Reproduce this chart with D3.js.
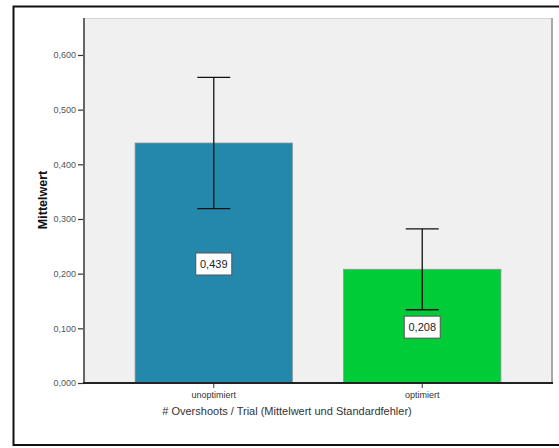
<!DOCTYPE html>
<html>
<head>
<meta charset="utf-8">
<script src="https://cdn.jsdelivr.net/npm/d3@7"></script>
<style>
  html, body { margin: 0; padding: 0; background: #ffffff; }
  svg { display: block; font-family: "Liberation Sans", Arial, sans-serif; }
</style>
</head>
<body>
<svg id="chart" width="559" height="448"></svg>
<script>
// Mean overshoots per trial, with standard error
const categories = ["unoptimiert", "optimiert"];
const means = [0.439, 0.208];
const stdErrors = [0.120, 0.074];
const barColors = ["#2388ab", "#00cc38"];
const yTicks = [0, 0.1, 0.2, 0.3, 0.4, 0.5, 0.6];
const yTitle = "Mittelwert";
const xTitle = "# Overshoots / Trial (Mittelwert und Standardfehler)";

const svg = d3.select("#chart");

// outer frame (runs past the right edge)
svg.append("rect")
  .attr("x", 13.5).attr("y", 6.5)
  .attr("width", 560).attr("height", 438.5)
  .attr("fill", "#ffffff").attr("stroke", "#111").attr("stroke-width", 2);

const plot = { left: 84, right: 552, top: 18, bottom: 383 };

const y = d3.scaleLinear()
  .domain([0, 0.6])
  .range([plot.bottom, plot.bottom - 0.6 * 546.7]);

const x = d3.scaleBand()
  .domain(categories)
  .range([plot.left, plot.right])
  .paddingInner(0.245)
  .paddingOuter(0.245);

// plot background
svg.append("rect")
  .attr("x", plot.left).attr("y", plot.top)
  .attr("width", plot.right - plot.left).attr("height", plot.bottom - plot.top)
  .attr("fill", "#f0f0f0");
svg.append("line")
  .attr("x1", plot.left).attr("x2", plot.right)
  .attr("y1", plot.top + 0.5).attr("y2", plot.top + 0.5)
  .attr("stroke", "#d4d4d4").attr("stroke-width", 1);
svg.append("line")
  .attr("x1", plot.right).attr("x2", plot.right)
  .attr("y1", plot.top).attr("y2", plot.bottom)
  .attr("stroke", "#a8a8a8").attr("stroke-width", 2);

const data = categories.map((c, i) => ({ cat: c, mean: means[i], se: stdErrors[i], color: barColors[i] }));

// bars
svg.append("g").selectAll("rect").data(data).join("rect")
  .attr("x", d => x(d.cat))
  .attr("y", d => y(d.mean))
  .attr("width", x.bandwidth())
  .attr("height", d => y(0) - y(d.mean))
  .attr("fill", d => d.color)
  .attr("stroke", "#8a9a9a").attr("stroke-width", 0.8);

// error bars
const eb = svg.append("g").selectAll("g").data(data).join("g")
  .attr("transform", d => `translate(${x(d.cat) + x.bandwidth() / 2},0)`);
eb.append("line")
  .attr("y1", d => y(d.mean + d.se)).attr("y2", d => y(d.mean - d.se))
  .attr("stroke", "#111").attr("stroke-width", 1.3);
eb.selectAll("line.cap").data(d => [d.mean + d.se, d.mean - d.se]).join("line")
  .attr("class", "cap")
  .attr("x1", -16.5).attr("x2", 16.5)
  .attr("y1", v => y(v)).attr("y2", v => y(v))
  .attr("stroke", "#111").attr("stroke-width", 1.3);

// value labels
const fmtVal = d3.formatLocale({ decimal: ",", thousands: ".", grouping: [3], currency: ["", "€"] }).format(".3f");
const lab = svg.append("g").selectAll("g").data(data).join("g")
  .attr("transform", d => `translate(${x(d.cat) + x.bandwidth() / 2},${(y(d.mean) + y(0)) / 2 + 1})`);
lab.append("rect")
  .attr("x", -18).attr("y", -11).attr("width", 36).attr("height", 22)
  .attr("fill", "#ffffff").attr("stroke", "#555").attr("stroke-width", 1);
lab.append("text")
  .attr("text-anchor", "middle").attr("dy", "0.36em")
  .attr("font-size", 11).attr("fill", "#222")
  .text(d => fmtVal(d.mean));

// y axis
const yAxis = d3.axisLeft(y).tickValues(yTicks).tickSize(6).tickPadding(2).tickFormat(fmtVal);
const gy = svg.append("g").attr("transform", `translate(${plot.left},0)`).call(yAxis);
gy.select(".domain").remove();
gy.selectAll(".tick line").attr("stroke", "#333").attr("stroke-width", 1.2);
gy.selectAll(".tick text").attr("font-size", 9).attr("fill", "#555")
  .attr("font-family", "'Liberation Sans', Arial, sans-serif");
svg.append("line")
  .attr("x1", plot.left).attr("x2", plot.left)
  .attr("y1", plot.top).attr("y2", plot.bottom + 1)
  .attr("stroke", "#666").attr("stroke-width", 2);

// x axis
const xAxis = d3.axisBottom(x).tickSize(5).tickPadding(4);
const gx = svg.append("g").attr("transform", `translate(0,${plot.bottom})`).call(xAxis);
gx.select(".domain").remove();
gx.selectAll(".tick line").attr("stroke", "#333").attr("stroke-width", 1);
gx.selectAll(".tick text").attr("font-size", 9).attr("fill", "#333")
  .attr("font-family", "'Liberation Sans', Arial, sans-serif");
svg.append("line")
  .attr("x1", plot.left - 1).attr("x2", plot.right + 1)
  .attr("y1", plot.bottom).attr("y2", plot.bottom)
  .attr("stroke", "#222").attr("stroke-width", 2);

// titles
svg.append("text")
  .attr("transform", `translate(47,200) rotate(-90)`)
  .attr("text-anchor", "middle")
  .attr("font-size", 12.5).attr("font-weight", "bold").attr("fill", "#111")
  .text(yTitle);
svg.append("text")
  .attr("x", 287).attr("y", 415)
  .attr("text-anchor", "middle")
  .attr("font-size", 11).attr("fill", "#333")
  .text(xTitle);
</script>
</body>
</html>
